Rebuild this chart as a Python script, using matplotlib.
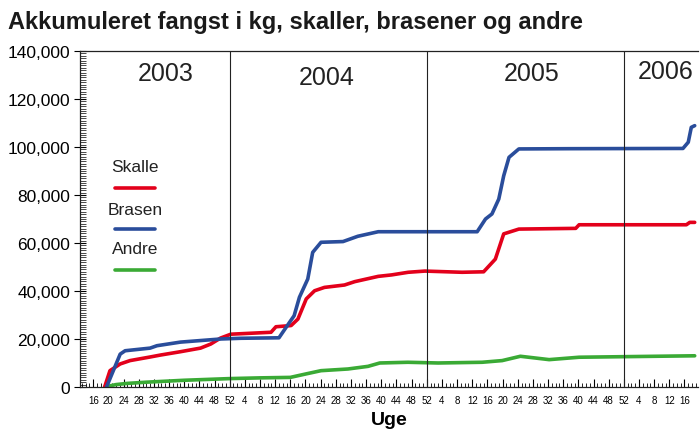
import numpy as np
import matplotlib
matplotlib.use("Agg")
import matplotlib.pyplot as plt
from matplotlib.ticker import MultipleLocator, FuncFormatter

plt.rcParams['font.family'] = ['Liberation Sans', 'DejaVu Sans']

# week index: 2003 week k -> k, 2004 -> 52+k, 2005 -> 104+k, 2006 -> 156+k
skalle_w = [19, 20.4, 23.1, 25.7, 31, 33.7, 39, 44.3, 47, 49.6, 52.3, 55, 62.9, 64.2, 68.2,
            70, 72.2, 74.4, 77, 82.3, 85, 91.2, 94.7, 99.1, 103.5, 113.3, 119, 122.1, 124.3,
            128.3, 143.3, 144.2, 172.5, 173.4, 174.7]
skalle_kg = [0, 6800, 9600, 11000, 12500, 13300, 14700, 16200, 17900, 20400, 22000, 22200,
             22800, 25100, 25600, 28300, 36700, 40100, 41500, 42500, 43900, 46100, 46700,
             47800, 48300, 47800, 48000, 53300, 63800, 65800, 66100, 67600, 67600, 68600, 68600]

brasen_w = [19.5, 23.1, 24.4, 31, 32.8, 39, 49.6, 54.9, 65, 66.9, 69, 70.4, 72.6, 73.9, 76.1,
            81.9, 85.8, 91.2, 107, 117.3, 119.5, 121.2, 123, 124.3, 125.7, 128.3, 141.5,
            171.6, 173, 173.8, 174.7]
brasen_kg = [0, 13700, 15100, 16200, 17200, 18700, 20000, 20300, 20500, 24900, 29700, 37400,
             45000, 56100, 60300, 60600, 62800, 64700, 64700, 64700, 70000, 72100, 78300,
             88000, 95700, 99200, 99300, 99400, 102000, 108200, 108900]

andre_w = [19, 22, 25, 30, 40, 52, 60, 68, 72, 76.1, 83.2, 88.5, 91.6, 99, 107, 118.6, 123.9,
           128.7, 136.3, 144.2, 174.7]
andre_kg = [0, 1000, 1500, 2000, 2800, 3500, 3800, 4000, 5400, 6800, 7500, 8600, 10000, 10300,
            10000, 10300, 11000, 12800, 11400, 12400, 13000]

year_bounds = [52, 104, 156]
years = ["2003", "2004", "2005", "2006"]
year_pos = [35, 77.7, 131.8, 167]
year_y = [0.934, 0.923, 0.935, 0.940]

red = "#e3001b"
blue = "#2a4d9b"
green = "#3aaa35"

fig = plt.figure(figsize=(7, 4.39), dpi=100)
ax = fig.add_axes([0.1143, 0.1162, 0.883, 0.7653])

ax.plot(andre_w, andre_kg, color=green, lw=2.6, solid_capstyle='round')
ax.plot(skalle_w, skalle_kg, color=red, lw=2.6, solid_capstyle='round')
ax.plot(brasen_w, brasen_kg, color=blue, lw=2.6, solid_capstyle='round')

for b in year_bounds:
    ax.axvline(b, color='#222222', lw=0.8)
for lab, xp, yp in zip(years, year_pos, year_y):
    ax.text(xp, yp, lab, transform=ax.get_xaxis_transform(), ha='center', va='center',
            fontsize=18, color='#222222')

# legend: label above a short line
leg = [("Skalle", red, 0.655, 0.592), ("Brasen", blue, 0.527, 0.470), ("Andre", green, 0.411, 0.348)]
for lab, c, ty, ly in leg:
    ax.text(0.089, ty, lab, transform=ax.transAxes, ha='center', va='center', fontsize=12.5,
            color='#222222')
    ax.plot([0.057, 0.121], [ly, ly], transform=ax.transAxes, color=c, lw=2.6,
            solid_capstyle='round')

ax.set_xlim(12.5, 175.6)
ax.set_ylim(0, 140000)

ax.xaxis.set_major_locator(MultipleLocator(4))
ax.xaxis.set_minor_locator(MultipleLocator(1))
ax.xaxis.set_major_formatter(FuncFormatter(lambda v, p: "%d" % ((int(round(v)) - 1) % 52 + 1)))
ax.yaxis.set_major_locator(MultipleLocator(20000))
ax.yaxis.set_minor_locator(MultipleLocator(1000))
ax.yaxis.set_major_formatter(FuncFormatter(lambda v, p: "{:,.0f}".format(v)))

ax.tick_params(axis='x', which='major', direction='in', length=6, width=0.8, labelsize=7, pad=6)
ax.tick_params(axis='x', which='minor', direction='in', length=3, width=0.6)
ax.tick_params(axis='y', which='major', direction='inout', length=8, width=0.8, labelsize=12.5,
               pad=3)
ax.tick_params(axis='y', which='minor', direction='in', length=4, width=0.5)

ax.spines['right'].set_visible(False)
for s in ['left', 'bottom', 'top']:
    ax.spines[s].set_linewidth(0.9)
    ax.spines[s].set_color('#222222')

ax.set_xlabel("Uge", fontsize=14, fontweight='bold', labelpad=4)
fig.text(0.011, 1 - 22 / 439, "Akkumuleret fangst i kg, skaller, brasener og andre",
         fontsize=17, fontweight='bold', ha='left', va='center', color='#1a1a1a')

fig.savefig("out.png", dpi=100)
